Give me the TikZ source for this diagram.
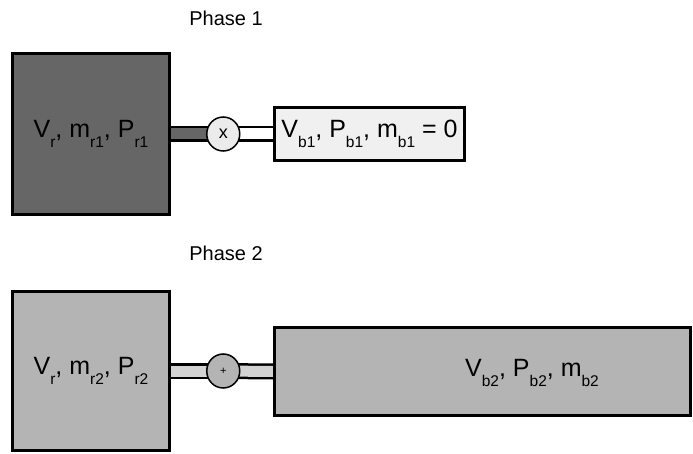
\documentclass[tikz,border=0pt]{standalone}
\usepackage{fontspec}
\setmainfont{Liberation Sans}
\usetikzlibrary{positioning,shapes.geometric,backgrounds}

\definecolor{tankdark}{HTML}{666666}
\definecolor{tankgrey}{HTML}{B4B4B4}
\definecolor{pipegrey}{HTML}{D2D2D2}
\definecolor{paleline}{HTML}{F0F0F0}
\definecolor{valvepale}{HTML}{EBEBEB}

\newcommand{\tankfont}{\fontsize{25}{30}\selectfont}
\newcommand{\phasefont}{\fontsize{20}{24}\selectfont}
\newcommand{\lowsub}[1]{\raisebox{-0.38em}{\fontsize{15.5}{15}\selectfont #1}}

\begin{document}
\begin{tikzpicture}[
    x=1pt, y=-1pt,
    tank/.style={draw, line width=3pt, inner sep=0pt, font=\tankfont},
    valve/.style={draw, ellipse, line width=1.5pt, minimum width=33pt,
                  minimum height=34pt, inner sep=0pt},
    pipe/.style={draw=black, line width=2.5pt, double distance=11pt},
    phase/.style={font=\phasefont}
]
\useasboundingbox (0,0) rectangle (693,454);

% Phase 1
\node[phase] (P1) at (226,18) {Phase 1};
\node[tank, fill=tankdark, minimum width=157pt, minimum height=161pt]
    (R1) at (91,134) {V\lowsub{r}, m\lowsub{r1}, P\lowsub{r1}};
\node[valve, fill=valvepale, right=35pt of R1.east, anchor=west, font=\fontsize{18}{18}\selectfont]
    (V1) {x};
\node[tank, fill=paleline, minimum width=190pt, minimum height=53pt]
    (B1) at (369.5,134) {V\lowsub{b1}, P\lowsub{b1}, m\lowsub{b1} = 0};

% Phase 2
\node[phase] (P2) at (226,253) {Phase 2};
\node[tank, fill=tankgrey, minimum width=157pt, minimum height=159pt]
    (R2) at (91,371) {V\lowsub{r}, m\lowsub{r2}, P\lowsub{r2}};
\node[valve, fill=tankgrey, right=35pt of R2.east, anchor=west, font=\fontsize{11}{11}\selectfont]
    (V2) {+};
\node[tank, fill=tankgrey, minimum width=416pt, minimum height=88pt]
    (B2) at (482.5,371.5) {};
\node[font=\tankfont] (T2) at (532,373) {V\lowsub{b2}, P\lowsub{b2}, m\lowsub{b2}};

% Pipes
\begin{scope}[on background layer]
\draw[pipe, double=tankdark] (R1.east) -- (V1.center);
\draw[pipe, double=white]    (V1.center) -- (B1.west);
\draw[pipe, double=pipegrey] (R2.east) -- (V2.center);
\draw[pipe, double=pipegrey] (V2.center) -- (B2.west);
\end{scope}

\end{tikzpicture}
\end{document}
